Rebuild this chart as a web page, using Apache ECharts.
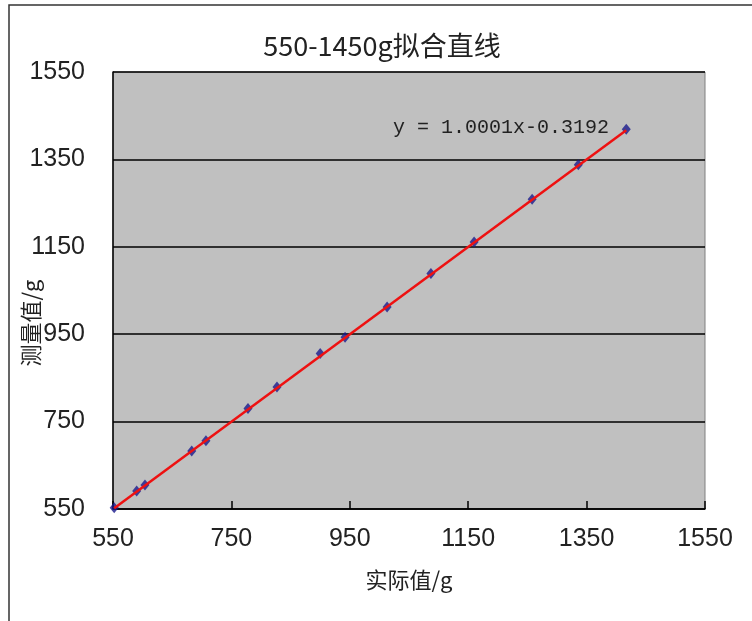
<!DOCTYPE html>
<html>
<head>
<meta charset="utf-8">
<script src="https://cdn.jsdelivr.net/npm/echarts@6/dist/echarts.min.js"></script>
<style>html,body{margin:0;padding:0;background:#fff;}#c{width:752px;height:621px;}</style>
</head>
<body>
<div id="c"></div>
<script>
// Actual values (g)
const actual = [552, 590, 604, 683, 707, 778, 827, 900, 942, 1013, 1087, 1160, 1258, 1336, 1417];
// Measured values (g)
const measured = [553, 591, 605, 683, 706, 780, 829, 906, 943, 1012, 1089, 1161, 1259, 1338, 1419];
// Axis ticks
const xTicks = [550, 750, 950, 1150, 1350, 1550];
const yTicks = [550, 750, 950, 1150, 1350, 1550];
// Trendline shown in chart: y = 1.0001x - 0.3192
const slope = 1.0001, intercept = -0.3192;
const trendX = [552, 1417];

const pts = actual.map((x, i) => [x, measured[i]]);
const trend = trendX.map(x => [x, slope * x + intercept]);

const numFont = '"Liberation Sans Narrow", "Liberation Sans", sans-serif';
const cjkFont = '"Noto Sans CJK SC", sans-serif';
const chart = echarts.init(document.getElementById('c'), null, {renderer: 'canvas'});
chart.setOption({
  backgroundColor: '#ffffff',
  animation: false,
  title: {
    text: '550-1450g拟合直线',
    left: 377, top: 27, textAlign: 'center',
    textStyle: {fontFamily: cjkFont, fontSize: 27, fontWeight: 'normal', color: '#222'}
  },
  grid: {left: 113, right: 47, top: 72, bottom: 112, show: true, backgroundColor: '#c0c0c0', borderColor: '#808080', borderWidth: 1, outerBoundsMode: 'none', containLabel: false},
  xAxis: {
    type: 'value', min: xTicks[0], max: xTicks[xTicks.length - 1], interval: 200,
    name: '实际值/g', nameLocation: 'middle', nameGap: 60, nameMoveOverlap: false,
    nameTextStyle: {fontFamily: cjkFont, fontSize: 22, color: '#222'},
    axisLine: {show: true, lineStyle: {color: '#000', width: 1.5}},
    axisTick: {show: true, inside: true, length: 8, lineStyle: {color: '#000', width: 1.5}},
    splitLine: {show: false},
    axisLabel: {fontFamily: numFont, fontSize: 25, color: '#222', margin: 18, formatter: v => String(v)}
  },
  yAxis: {
    type: 'value', min: yTicks[0], max: yTicks[yTicks.length - 1], interval: 200,
    axisLine: {show: true, lineStyle: {color: '#000', width: 1.5}},
    axisTick: {show: false},
    splitLine: {show: true, lineStyle: {color: '#000', width: 1.5}},
    axisLabel: {fontFamily: numFont, fontSize: 25, color: '#222', margin: 28, formatter: v => String(v)}
  },
  series: [
    {
      type: 'scatter', data: pts, symbol: 'diamond', symbolSize: [9, 11],
      itemStyle: {color: '#1a1a8c'}, z: 2
    },
    {
      type: 'line', data: trend, showSymbol: false, symbol: 'none',
      lineStyle: {color: '#ee1111', width: 2.5}, z: 3, silent: true
    }
  ],
  graphic: [
    {type: 'rect', shape: {x: 9, y: 5, width: 900, height: 800}, style: {fill: 'none', stroke: '#333', lineWidth: 1.5}, z: 100},
    {type: 'text', left: 393, top: 118, style: {text: 'y = 1.0001x-0.3192', font: '20px "Liberation Mono", monospace', fill: '#222'}, z: 100},
    {type: 'text', x: 31, y: 323, rotation: Math.PI / 2, style: {text: '测量值/g', font: '22px "Noto Sans CJK SC", sans-serif', fill: '#222', align: 'center', verticalAlign: 'middle'}, z: 100}
  ]
});
</script>
</body>
</html>
